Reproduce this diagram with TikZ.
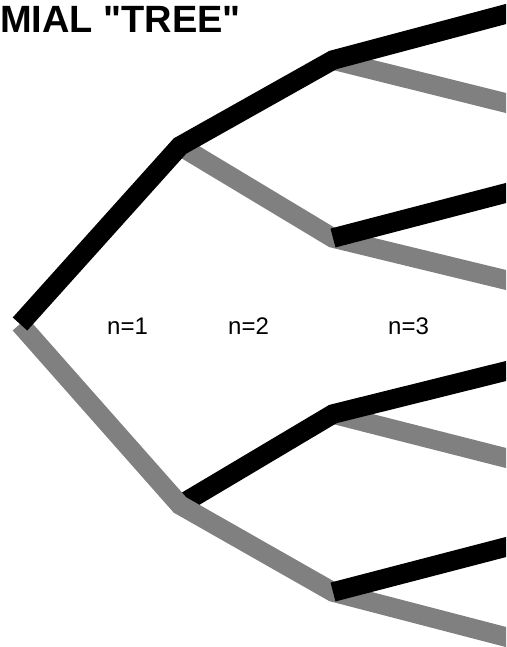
\documentclass[tikz,border=0pt]{standalone}
\usepackage{fontspec}
\setmainfont{Liberation Sans}
\newfontfamily\ttlfont{Liberation Sans}[Ligatures=TeXOff]
\definecolor{treegray}{RGB}{128,128,128}
\tikzset{
  br/.style={line width=19.5pt, line cap=butt, line join=miter},
  upbr/.style={br, draw=black},
  downbr/.style={br, draw=treegray},
  leafbr/.style={shorten >=-14pt},
  lbl/.style={font=\fontsize{24}{28}\selectfont, inner sep=0pt, anchor=base west},
  ttl/.style={font=\ttlfont\fontsize{38}{44}\selectfont\bfseries, inner sep=0pt, anchor=base west},
}
\begin{document}
\begin{tikzpicture}[x=1pt,y=-1pt]
\useasboundingbox (0,0) rectangle (506,647);
% tree nodes
\coordinate (r) at (20,324);
\coordinate (a) at (180,146);
\coordinate (b) at (180,505);
\coordinate (c1) at (333,60);
\coordinate (c2) at (333,238);
\coordinate (c3) at (333,414);
\coordinate (c4) at (333,592);
\coordinate (l1) at (506,14);
\coordinate (l2) at (506,103);
\coordinate (l3) at (506,193);
\coordinate (l4) at (506,280);
\coordinate (l5) at (506,371);
\coordinate (l6) at (506,458);
\coordinate (l7) at (506,547);
\coordinate (l8) at (506,637);
\begin{scope}
\clip (0,0) rectangle (506,647);
\draw[downbr, leafbr] (c3) -- (l6);
\draw[upbr, leafbr] (b) -- (c3) -- (l5);
\draw[downbr, leafbr] (r) -- (b) -- (c4) -- (l8);
\draw[upbr, leafbr] (c4) -- (l7);
\draw[downbr, leafbr] (a) -- (c2) -- (l4);
\draw[upbr, leafbr] (c2) -- (l3);
\draw[downbr, leafbr] (c1) -- (l2);
\draw[upbr, leafbr] (r) -- (a) -- (c1) -- (l1);
\end{scope}
\node[ttl] (title) at (0,33) {MIAL "TREE"};
\node[lbl] (n1) at (107,334) {n=1};
\node[lbl] (n2) at (228,334) {n=2};
\node[lbl] (n3) at (388,334) {n=3};
\end{tikzpicture}
\end{document}
